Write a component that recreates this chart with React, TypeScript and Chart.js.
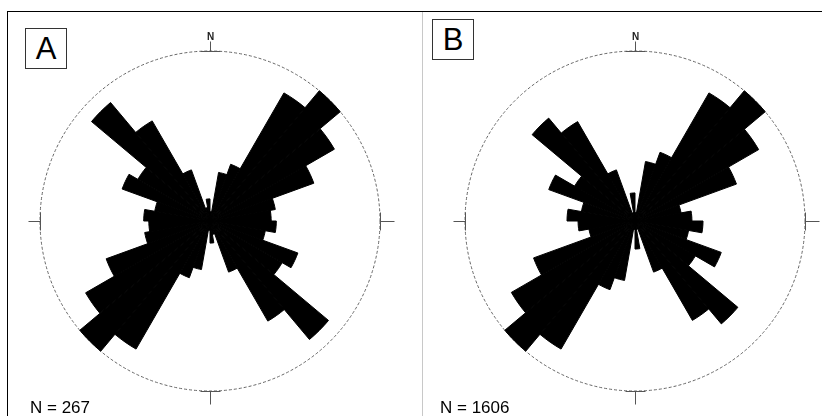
import React, { useEffect, useRef } from "react";
import { Chart, registerables } from "chart.js";

Chart.register(...registerables);

// 10-degree direction classes, clockwise from north
const sectorLabels = [
  "0-10", "10-20", "20-30", "30-40", "40-50", "50-60", "60-70", "70-80", "80-90",
  "90-100", "100-110", "110-120", "120-130", "130-140", "140-150", "150-160", "160-170", "170-180",
  "180-190", "190-200", "200-210", "210-220", "220-230", "230-240", "240-250", "250-260", "260-270",
  "270-280", "280-290", "290-300", "300-310", "310-320", "320-330", "330-340", "340-350", "350-360",
];

// relative petal length (% of outer circle), panel A
const valuesA = [
  5.5, 29, 35.5, 87, 100, 84.5, 65, 39, 36,
  39, 33, 55, 49, 91, 68, 32, 8, 13,
  5.5, 29, 35.5, 87, 100, 84.5, 65, 39, 36,
  39, 33, 55, 49, 91, 68, 32, 8, 13,
];

// relative petal length (% of outer circle), panel B
const valuesB = [
  5, 35.5, 43, 87, 100, 84, 63.5, 27.5, 33.5,
  40, 32, 54, 41, 79, 67.5, 32, 5, 16.5,
  5, 35.5, 43, 87, 100, 84, 63.5, 27.5, 33.5,
  40, 32, 54, 41, 79, 67.5, 32, 5, 16.5,
];

const panelLetters = ["A", "B"];
const countLabels = ["N = 267", "N = 1606"];
const northLabel = "N";
const radialMax = 100;

const FONT = "'Liberation Sans', Arial, Helvetica, sans-serif";

const compassPlugin = {
  id: "compass",
  afterDatasetsDraw(chart: any) {
    const s = chart.scales.r;
    const ctx = chart.ctx;
    const cx = s.xCenter + 0.5;
    const cy = s.yCenter + 0.5;
    const R = s.getDistanceFromCenterForValue(s.max);
    ctx.save();
    ctx.strokeStyle = "#555";
    ctx.lineWidth = 1;
    ctx.setLineDash([]);
    ctx.beginPath();
    // tangent segments
    ctx.moveTo(cx - 10, cy - R); ctx.lineTo(cx + 10, cy - R);
    ctx.moveTo(cx - 10, cy + R); ctx.lineTo(cx + 10, cy + R);
    ctx.moveTo(cx - R, cy - 9); ctx.lineTo(cx - R, cy + 9);
    ctx.moveTo(cx + R, cy - 9); ctx.lineTo(cx + R, cy + 9);
    // outward ticks
    ctx.moveTo(cx, cy - R); ctx.lineTo(cx, cy - R - 10);
    ctx.moveTo(cx, cy + R); ctx.lineTo(cx, cy + R + 13);
    ctx.moveTo(cx - R, cy); ctx.lineTo(cx - R - 12, cy);
    ctx.moveTo(cx + R, cy); ctx.lineTo(cx + R + 14, cy);
    ctx.stroke();
    ctx.fillStyle = "#222";
    ctx.font = `bold 10px ${FONT}`;
    ctx.textAlign = "center";
    ctx.textBaseline = "alphabetic";
    ctx.fillText(northLabel, s.xCenter + 0.5, s.yCenter - R - 11);
    ctx.restore();
  },
};

type RoseProps = {
  values: number[];
  left: number;
  top: number;
  width: number;
  height: number;
  padding: { left: number; right: number; top: number; bottom: number };
};

function Rose({ values, left, top, width, height, padding }: RoseProps) {
  const ref = useRef<HTMLCanvasElement | null>(null);
  useEffect(() => {
    if (!ref.current) return;
    const chart = new Chart(ref.current, {
      type: "polarArea",
      data: {
        labels: sectorLabels,
        datasets: [
          {
            data: values,
            backgroundColor: "#000",
            borderColor: "#000",
            borderWidth: 1,
            borderJoinStyle: "miter",
          },
        ],
      },
      options: {
        responsive: false,
        animation: false,
        devicePixelRatio: 1,
        layout: { padding },
        plugins: {
          legend: { display: false },
          tooltip: { enabled: false },
        },
        scales: {
          r: {
            min: 0,
            max: radialMax,
            startAngle: 0,
            ticks: { display: false, stepSize: radialMax },
            grid: { color: "#666", lineWidth: 1, circular: true },
            border: { dash: [3, 2] },
            angleLines: { display: false },
            pointLabels: { display: false },
          },
        },
      } as any,
      plugins: [compassPlugin],
    });
    return () => chart.destroy();
  }, [values]);
  return (
    <canvas
      ref={ref}
      width={width}
      height={height}
      style={{ position: "absolute", left, top, width, height }}
    />
  );
}

function LetterBox({ letter, left, top }: { letter: string; left: number; top: number }) {
  return (
    <div
      style={{
        position: "absolute",
        left,
        top,
        width: 42,
        height: 41,
        boxSizing: "border-box",
        border: "1px solid #333",
        display: "flex",
        alignItems: "center",
        justifyContent: "center",
        fontFamily: FONT,
        fontSize: 31,
        lineHeight: "31px",
        color: "#000",
        background: "#fff",
      }}
    >
      {letter}
    </div>
  );
}

function CountLabel({ text, left }: { text: string; left: number }) {
  return (
    <div
      style={{
        position: "absolute",
        left,
        top: 399,
        fontFamily: FONT,
        fontSize: 17,
        lineHeight: "17px",
        color: "#000",
        whiteSpace: "nowrap",
      }}
    >
      {text}
    </div>
  );
}

export default function App() {
  return (
    <div
      style={{
        position: "absolute",
        left: 0,
        top: 0,
        width: 822,
        height: 416,
        overflow: "hidden",
        background: "#fff",
      }}
    >
      <div style={{ position: "absolute", left: 7, top: 11, width: 815, height: 1, background: "#000" }} />
      <div style={{ position: "absolute", left: 7, top: 11, width: 1, height: 405, background: "#000" }} />
      <div style={{ position: "absolute", left: 422, top: 12, width: 1, height: 404, background: "#c8c8c8" }} />
      <Rose
        values={valuesA}
        left={8}
        top={12}
        width={414}
        height={404}
        padding={{ left: 32, right: 42, top: 39, bottom: 25 }}
      />
      <Rose
        values={valuesB}
        left={423}
        top={12}
        width={399}
        height={404}
        padding={{ left: 42, right: 17, top: 39, bottom: 25 }}
      />
      <LetterBox letter={panelLetters[0]} left={25} top={28} />
      <LetterBox letter={panelLetters[1]} left={432} top={19} />
      <CountLabel text={countLabels[0]} left={30} />
      <CountLabel text={countLabels[1]} left={440} />
    </div>
  );
}
